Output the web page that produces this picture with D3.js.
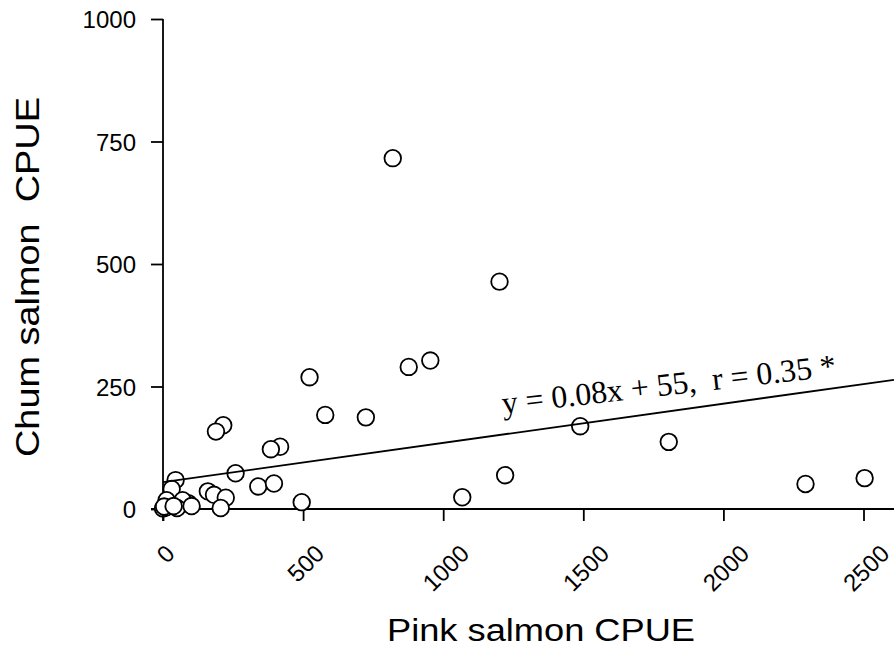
<!DOCTYPE html>
<html>
<head>
<meta charset="utf-8">
<script src="https://cdn.jsdelivr.net/npm/d3@7"></script>
<style>
  html, body { margin: 0; padding: 0; background: #fff; }
  svg { display: block; }
  text { white-space: pre; }
</style>
</head>
<body>
<svg id="chart" width="894" height="660"></svg>
<script>
// ---- data ----
const pinkCPUE = [820, 1201, 877, 954, 523, 579, 724, 1489, 1805, 1221, 1068, 2293, 2504, 495,
  215, 189, 418, 385, 259, 340, 396, 45, 31, 160, 182, 224, 206, 90, 70, 13, 0, 10, 50, 4, 38, 102];
const chumCPUE = [716, 464, 290, 303, 269, 192, 187, 169, 137, 69, 24, 51, 63, 14,
  171, 158, 127, 122, 73, 46, 52, 59, 41, 36, 29, 23, 2, 12, 18, 18, 1, 3, 2, 5, 6, 6];
const xTicks = [0, 500, 1000, 1500, 2000, 2500];
const yTicks = [0, 250, 500, 750, 1000];
const regSlope = 0.08, regIntercept = 55;
const eqLabel = "y = 0.08x + 55,  r = 0.35 *";
const xTitle = "Pink salmon CPUE";
const yTitle = "Chum salmon  CPUE";

// ---- layout ----
const svg = d3.select("#chart");
const x = d3.scaleLinear().domain([0, 2500]).range([163, 863.5]);
const y = d3.scaleLinear().domain([0, 1000]).range([509, 19]);
const xRight = 894;

const sans = "'Liberation Sans', Arial, Helvetica, sans-serif";
const serif = "'Liberation Serif', 'Times New Roman', Times, serif";

// axes lines
const axisG = svg.append("g").attr("stroke", "#000").attr("stroke-width", 1.8);
axisG.append("line").attr("x1", x(0)).attr("x2", x(0)).attr("y1", y(1000)).attr("y2", y(0) + 12);
axisG.append("line").attr("x1", x(0) - 12).attr("x2", xRight).attr("y1", y(0)).attr("y2", y(0));

// y axis ticks via d3 axis
const yAxis = svg.append("g")
  .attr("transform", `translate(${x(0)},0)`)
  .call(d3.axisLeft(y).tickValues(yTicks).tickSize(12).tickSizeOuter(0).tickPadding(15).tickFormat(d3.format("d")));
yAxis.select(".domain").remove();
yAxis.selectAll(".tick line").attr("stroke", "#000").attr("stroke-width", 1.8);
yAxis.selectAll(".tick text").attr("fill", "#000").style("font-family", sans).style("font-size", "24px").attr("dy", "0.36em");

// x axis ticks via d3 axis
const xAxis = svg.append("g")
  .attr("transform", `translate(0,${y(0)})`)
  .call(d3.axisBottom(x).tickValues(xTicks).tickSize(12).tickSizeOuter(0).tickFormat(d3.format("d")));
xAxis.select(".domain").remove();
xAxis.selectAll(".tick line").attr("stroke", "#000").attr("stroke-width", 1.8);
xAxis.selectAll(".tick text")
  .attr("fill", "#000")
  .style("font-family", sans).style("font-size", "24px")
  .attr("text-anchor", "middle")
  .attr("dominant-baseline", "central")
  .attr("dy", null)
  .each(function() {
    const t = d3.select(this);
    const L = this.getComputedTextLength();
    const h = 24 * 0.72;
    const top = 543 - y(0);
    const cy = top + (L + h) * 0.3536;
    t.attr("x", 2).attr("y", cy).attr("transform", `rotate(-45, 2, ${cy})`);
  });

// points
svg.append("g").selectAll("circle")
  .data(pinkCPUE.map((p, i) => [p, chumCPUE[i]]))
  .join("circle")
  .attr("cx", d => x(d[0]))
  .attr("cy", d => y(d[1]))
  .attr("r", 8.3)
  .attr("fill", "#fff")
  .attr("stroke", "#000")
  .attr("stroke-width", 1.8);

// regression line
const xEnd = x.invert(xRight);
svg.append("line")
  .attr("x1", x(0)).attr("y1", y(regIntercept))
  .attr("x2", x(xEnd)).attr("y2", y(regSlope * xEnd + regIntercept))
  .attr("stroke", "#000").attr("stroke-width", 1.8);

// equation label
svg.append("text")
  .attr("x", 503).attr("y", 414)
  .attr("transform", "rotate(-6.5, 503, 414)")
  .attr("textLength", 336).attr("lengthAdjust", "spacingAndGlyphs")
  .style("font-family", serif).style("font-size", "32px")
  .attr("fill", "#000")
  .text(eqLabel);

// axis titles
svg.append("text")
  .attr("x", 541).attr("y", 641)
  .attr("text-anchor", "middle")
  .attr("textLength", 308).attr("lengthAdjust", "spacingAndGlyphs")
  .style("font-family", sans).style("font-size", "31px")
  .attr("fill", "#000")
  .text(xTitle);

svg.append("text")
  .attr("transform", "translate(39,277) rotate(-90)")
  .attr("text-anchor", "middle")
  .attr("textLength", 360).attr("lengthAdjust", "spacingAndGlyphs")
  .style("font-family", sans).style("font-size", "33px")
  .attr("fill", "#000")
  .text(yTitle);
</script>
</body>
</html>
